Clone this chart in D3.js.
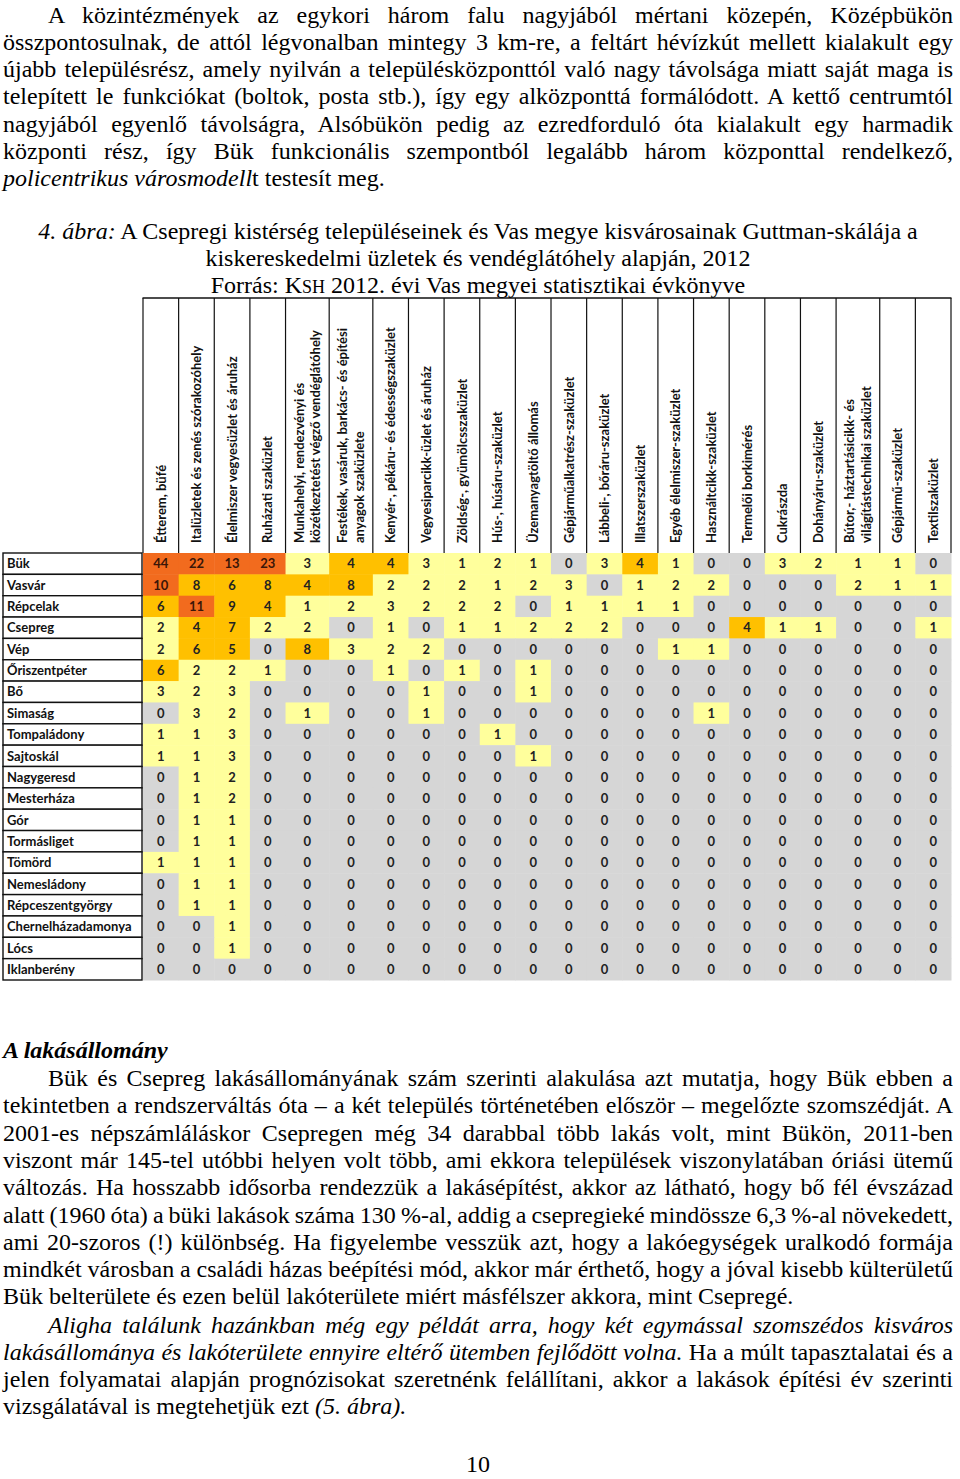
<!DOCTYPE html>
<html>
<head>
<meta charset="utf-8">
<script src="https://cdn.jsdelivr.net/npm/d3@7"></script>
<style>
  body { margin: 0; background: #fff; }
  svg { display: block; }
</style>
</head>
<body>
<script>
// Települések (sorok)
var telepulesek = ['Bük', 'Vasvár', 'Répcelak', 'Csepreg', 'Vép', 'Őriszentpéter', 'Bő', 'Simaság',
  'Tompaládony', 'Sajtoskál', 'Nagygeresd', 'Mesterháza', 'Gór', 'Tormásliget', 'Tömörd',
  'Nemesládony', 'Répceszentgyörgy', 'Chernelházadamonya', 'Lócs', 'Iklanberény'];

// Üzlettípusok (oszlopok), soronként a fejléc sorai
var uzletek = [
  ['Étterem, büfé'],
  ['Italüzletek és zenés szórakozóhely'],
  ['Élelmiszer vegyesüzlet és áruház'],
  ['Ruházati szaküzlet'],
  ['Munkahelyi, rendezvényi és', 'közétkeztetést végző vendéglátóhely'],
  ['Festékek, vasáruk, barkács- és építési', 'anyagok szaküzlete'],
  ['Kenyér-, pékáru- és édességszaküzlet'],
  ['Vegyesiparcikk-üzlet és áruház'],
  ['Zöldség-, gyümölcsszaküzlet'],
  ['Hús-, húsáru-szaküzlet'],
  ['Üzemanyagtöltő állomás'],
  ['Gépjárműalkatrész-szaküzlet'],
  ['Lábbeli-, bőráru-szaküzlet'],
  ['Illatszerszaküzlet'],
  ['Egyéb élelmiszer-szaküzlet'],
  ['Használtcikk-szaküzlet'],
  ['Termelői borkimérés'],
  ['Cukrászda'],
  ['Dohányáru-szaküzlet'],
  ['Bútor,- háztartásicikk- és', 'világítástechnikai szaküzlet'],
  ['Gépjármű-szaküzlet'],
  ['Textilszaküzlet']
];

// Üzletek száma (sor = település, oszlop = üzlettípus)
var ertekek = [
  [44, 22, 13, 23, 3, 4, 4, 3, 1, 2, 1, 0, 3, 4, 1, 0, 0, 3, 2, 1, 1, 0],
  [10, 8, 6, 8, 4, 8, 2, 2, 2, 1, 2, 3, 0, 1, 2, 2, 0, 0, 0, 2, 1, 1],
  [6, 11, 9, 4, 1, 2, 3, 2, 2, 2, 0, 1, 1, 1, 1, 0, 0, 0, 0, 0, 0, 0],
  [2, 4, 7, 2, 2, 0, 1, 0, 1, 1, 2, 2, 2, 0, 0, 0, 4, 1, 1, 0, 0, 1],
  [2, 6, 5, 0, 8, 3, 2, 2, 0, 0, 0, 0, 0, 0, 1, 1, 0, 0, 0, 0, 0, 0],
  [6, 2, 2, 1, 0, 0, 1, 0, 1, 0, 1, 0, 0, 0, 0, 0, 0, 0, 0, 0, 0, 0],
  [3, 2, 3, 0, 0, 0, 0, 1, 0, 0, 1, 0, 0, 0, 0, 0, 0, 0, 0, 0, 0, 0],
  [0, 3, 2, 0, 1, 0, 0, 1, 0, 0, 0, 0, 0, 0, 0, 1, 0, 0, 0, 0, 0, 0],
  [1, 1, 3, 0, 0, 0, 0, 0, 0, 1, 0, 0, 0, 0, 0, 0, 0, 0, 0, 0, 0, 0],
  [1, 1, 3, 0, 0, 0, 0, 0, 0, 0, 1, 0, 0, 0, 0, 0, 0, 0, 0, 0, 0, 0],
  [0, 1, 2, 0, 0, 0, 0, 0, 0, 0, 0, 0, 0, 0, 0, 0, 0, 0, 0, 0, 0, 0],
  [0, 1, 2, 0, 0, 0, 0, 0, 0, 0, 0, 0, 0, 0, 0, 0, 0, 0, 0, 0, 0, 0],
  [0, 1, 1, 0, 0, 0, 0, 0, 0, 0, 0, 0, 0, 0, 0, 0, 0, 0, 0, 0, 0, 0],
  [0, 1, 1, 0, 0, 0, 0, 0, 0, 0, 0, 0, 0, 0, 0, 0, 0, 0, 0, 0, 0, 0],
  [1, 1, 1, 0, 0, 0, 0, 0, 0, 0, 0, 0, 0, 0, 0, 0, 0, 0, 0, 0, 0, 0],
  [0, 1, 1, 0, 0, 0, 0, 0, 0, 0, 0, 0, 0, 0, 0, 0, 0, 0, 0, 0, 0, 0],
  [0, 1, 1, 0, 0, 0, 0, 0, 0, 0, 0, 0, 0, 0, 0, 0, 0, 0, 0, 0, 0, 0],
  [0, 0, 1, 0, 0, 0, 0, 0, 0, 0, 0, 0, 0, 0, 0, 0, 0, 0, 0, 0, 0, 0],
  [0, 0, 1, 0, 0, 0, 0, 0, 0, 0, 0, 0, 0, 0, 0, 0, 0, 0, 0, 0, 0, 0],
  [0, 0, 0, 0, 0, 0, 0, 0, 0, 0, 0, 0, 0, 0, 0, 0, 0, 0, 0, 0, 0, 0]
];

// Sávhatárok és színek
var savok = [1, 4, 10];
var szinek = ['#d6d6d6', '#ffff9c', '#ffc000', '#f26b1e'];

// Szöveg: sorok, [szöveg, stílus]
var bekezdes1 = [
  [['A közintézmények az egykori három falu nagyjából mértani közepén, Középbükön']],
  [['összpontosulnak, de attól légvonalban mintegy 3 km-re, a feltárt hévízkút mellett kialakult egy']],
  [['újabb településrész, amely nyilván a településközponttól való nagy távolsága miatt saját maga is']],
  [['telepített le funkciókat (boltok, posta stb.), így egy alközponttá formálódott. A kettő centrumtól']],
  [['nagyjából egyenlő távolságra, Alsóbükön pedig az ezredforduló óta kialakult egy harmadik']],
  [['központi rész, így Bük funkcionális szempontból legalább három központtal rendelkező,']],
  [['policentrikus városmodell', 'i'], ['t testesít meg.']]
];
var felirat = [
  [['4. ', 'i'], ['ábra:', 'i'], [' A Csepregi kistérség településeinek és Vas megye kisvárosainak Guttman-skálája a']],
  [['kiskereskedelmi üzletek és vendéglátóhely alapján, 2012']],
  [['Forrás: K'], ['SH', 'sc'], [' 2012. évi Vas megyei statisztikai évkönyve']]
];
var cim = [['A lakásállomány', 'bi']];
var bekezdes2 = [
  [['Bük és Csepreg lakásállományának szám szerinti alakulása azt mutatja, hogy Bük ebben a']],
  [['tekintetben a rendszerváltás óta – a két település történetében először – megelőzte szomszédját. A']],
  [['2001-es népszámláláskor Csepregen még 34 darabbal több lakás volt, mint Bükön, 2011-ben']],
  [['viszont már 145-tel utóbbi helyen volt több, ami ekkora települések viszonylatában óriási ütemű']],
  [['változás. Ha hosszabb idősorba rendezzük a lakásépítést, akkor az látható, hogy bő fél évszázad']],
  [['alatt (1960 óta) a büki lakások száma 130 %-al, addig a csepregieké mindössze 6,3 %-al növekedett,']],
  [['ami 20-szoros (!) különbség. Ha figyelembe vesszük azt, hogy a lakóegységek uralkodó formája']],
  [['mindkét városban a családi házas beépítési mód, akkor már érthető, hogy a jóval kisebb külterületű']],
  [['Bük belterülete és ezen belül lakóterülete miért másfélszer akkora, mint Csepregé.']]
];
var bekezdes3 = [
  [['Aligha találunk hazánkban még egy példát arra, hogy két egymással szomszédos kisváros', 'i']],
  [['lakásállománya és lakóterülete ennyire eltérő ütemben fejlődött volna.', 'i'], [' Ha a múlt tapasztalatai és a']],
  [['jelen folyamatai alapján prognózisokat szeretnénk felállítani, akkor a lakások építési év szerinti']],
  [['vizsgálatával is megtehetjük ezt '], ['(5. ábra).', 'i']]
];

var SERIF = '"Liberation Serif", "Times New Roman", serif';
var SANS = 'Lato, "Open Sans", sans-serif';
var sx = 1.0; // a szöveg vízszintes sűrítése

var svg = d3.select('body').append('svg')
  .attr('width', 960)
  .attr('height', 1479)
  .style('background', '#fff');

/*
 * Egy szövegsor kirajzolása (sorkizárt, középre vagy balra)
 */
function sor(segs, x, y, mod) {
  var t = svg.append('text')
    .attr('transform', 'translate(' + x + ',' + y + ') scale(' + sx + ',1)')
    .style('font-family', SERIF)
    .style('font-size', '24px')
    .attr('fill', '#000');
  segs.forEach(function (s) {
    var ts = t.append('tspan').text(s[0]);
    var st = s[1] || '';
    if (st === 'sc') ts.style('font-size', '18px');
    else {
      if (st.indexOf('i') >= 0) ts.style('font-style', 'italic');
      if (st.indexOf('b') >= 0) ts.style('font-weight', 'bold');
    }
  });
  if (mod === 'kozep') t.attr('text-anchor', 'middle');
  if (mod === 'sorkizart') {
    var w = t.node().getComputedTextLength();
    var szoveg = segs.map(function (s) { return s[0]; }).join('');
    var n = szoveg.split(' ').length - 1;
    t.attr('word-spacing', ((953 - x) / sx - w) / n);
  }
}

function bekezdes(sorok, y0, behuz) {
  sorok.forEach(function (s, i) {
    var x = (i === 0 && behuz) ? 48 : 3;
    sor(s, x, y0 + i * 27.3, i === sorok.length - 1 ? 'bal' : 'sorkizart');
  });
}

bekezdes(bekezdes1, 22.5, true);
felirat.forEach(function (s, i) { sor(s, 478, 239 + i * 27, 'kozep'); });
sor(cim, 3, 1058, 'bal');
bekezdes(bekezdes2, 1086, true);
bekezdes(bekezdes3, 1332.5, true);
sor([['10']], 478, 1472, 'kozep');

/*
 * Guttman-tábla
 */
var felso = 298, fejAlja = 553, alja = 980;
var bal = 143, jobb = 951;

// oszlopszélesség a fejléc sorainak számától függ
var egysegek = uzletek.map(function (u) { return 1 + 0.225 * (u.length - 1); });
var hatarok = [0].concat(Array.from(d3.cumsum(egysegek)));
var x = d3.scaleLinear().domain([0, hatarok[hatarok.length - 1]]).range([bal, jobb]);
var y = d3.scaleBand().domain(telepulesek).range([fejAlja, alja]);
var szin = d3.scaleThreshold().domain(savok).range(szinek);

var gCella = svg.append('g');
var gSzam = svg.append('g');
var gFej = svg.append('g');
var gNev = svg.append('g');

// Cellák
ertekek.forEach(function (sorErt, i) {
  sorErt.forEach(function (v, j) {
    var x0 = x(hatarok[j]), x1 = x(hatarok[j + 1]);
    gCella.append('rect')
      .attr('x', x0)
      .attr('y', y(telepulesek[i]))
      .attr('width', x1 - x0 + 0.5)
      .attr('height', y.bandwidth() + 0.5)
      .style('fill', szin(v));
    gSzam.append('text')
      .attr('x', (x0 + x1) / 2)
      .attr('y', y(telepulesek[i]) + y.bandwidth() / 2)
      .attr('dy', '0.36em')
      .attr('text-anchor', 'middle')
      .style('font-family', SANS)
      .style('font-weight', 'bold')
      .style('font-size', '13px')
      .attr('fill', v >= 10 ? '#3a1608' : '#222')
      .text(v);
  });
});

// Fejléc keret
gFej.append('line')
  .attr('x1', bal - 0.5).attr('x2', jobb + 0.5)
  .attr('y1', felso).attr('y2', felso)
  .attr('stroke', '#111').attr('stroke-width', 1.4);
hatarok.forEach(function (h) {
  gFej.append('line')
    .attr('x1', x(h)).attr('x2', x(h))
    .attr('y1', felso).attr('y2', fejAlja)
    .attr('stroke', '#111').attr('stroke-width', 1.2);
});

// Fejléc feliratok (elforgatva)
uzletek.forEach(function (u, j) {
  var kx = (x(hatarok[j]) + x(hatarok[j + 1])) / 2;
  u.forEach(function (sorSz, k) {
    var eltol = (k - (u.length - 1) / 2) * 16.5;
    gFej.append('text')
      .attr('transform', 'translate(' + (kx + eltol) + ',' + 543 + ') rotate(-90)')
      .attr('dy', '0.36em')
      .style('font-family', SANS)
      .style('font-weight', 'bold')
      .style('font-size', '13px')
      .attr('fill', '#111')
      .text(sorSz);
  });
});

// Településnevek dobozban
telepulesek.forEach(function (t) {
  gNev.append('rect')
    .attr('x', 3)
    .attr('y', y(t))
    .attr('width', 139)
    .attr('height', y.bandwidth())
    .style('fill', '#fff')
    .attr('stroke', '#111')
    .attr('stroke-width', 1.4);
  gNev.append('text')
    .attr('x', 7)
    .attr('y', y(t) + y.bandwidth() / 2)
    .attr('dy', '0.36em')
    .style('font-family', SANS)
    .style('font-weight', 'bold')
    .style('font-size', '13px')
    .attr('fill', '#111')
    .text(t);
});
</script>
</body>
</html>
